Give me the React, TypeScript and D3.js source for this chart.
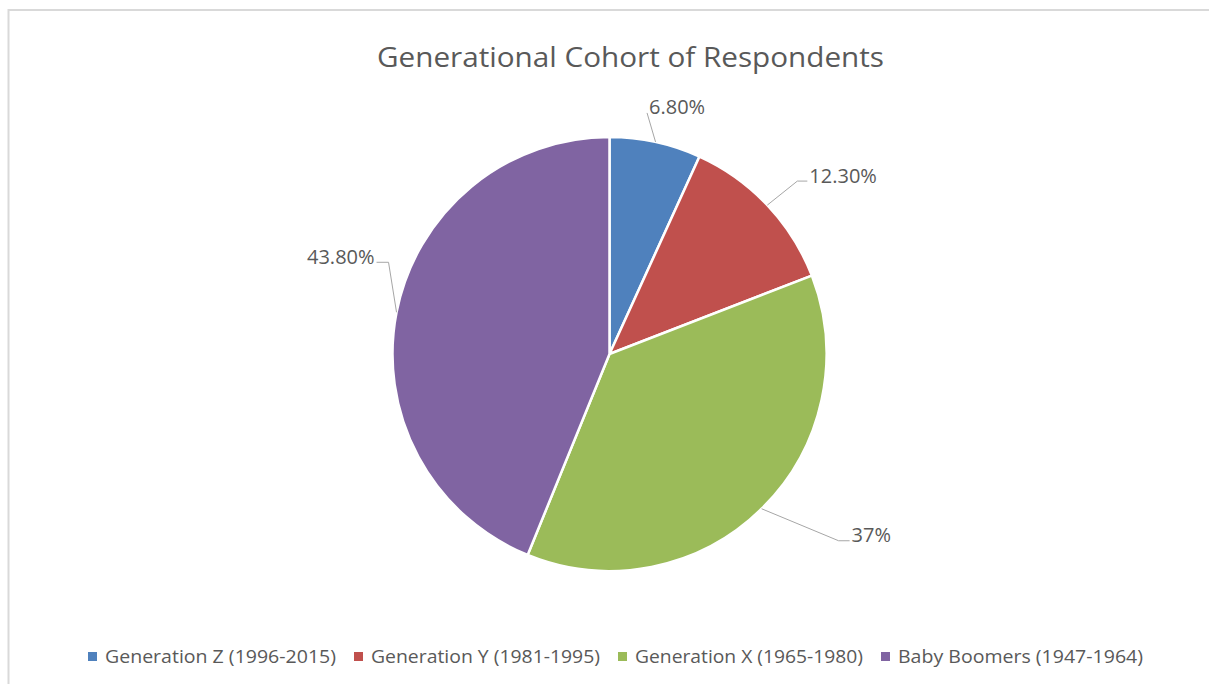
import React from "react";
import * as d3 from "d3";

// Share of respondents by generational cohort (percent)
const categories = [
  "Generation Z (1996-2015)",
  "Generation Y (1981-1995)",
  "Generation X (1965-1980)",
  "Baby Boomers (1947-1964)",
];
const shares = [6.8, 12.3, 37, 43.8];
const shareLabels = ["6.80%", "12.30%", "37%", "43.80%"];
const colors = ["#4f81bd", "#c0504d", "#9bbb59", "#8064a2"];

const TITLE = "Generational Cohort of Respondents";

// Layout
const W = 1209;
const H = 684;
const CX = 609.5;
const CY = 354;
const R = 217;
const FONT = "'Open Sans', 'Liberation Sans', sans-serif";
const TEXT_COLOR = "#595959";
const LEADER_COLOR = "#a6a6a6";

// Leader elbow offsets from the slice's outer midpoint, and the horizontal leg
const labelLayout = [
  { dx: -8.5, dy: -29, leg: 0, side: 1, textDy: 1 },
  { dx: 30, dy: -24, leg: 10, side: 1, textDy: 2 },
  { dx: 77, dy: 32, leg: 11, side: 1, textDy: 1 },
  { dx: -8, dy: -50, leg: 12, side: -1, textDy: 2 },
];

// Legend text lengths
const legendTextLengths = [231, 229, 228, 245];

export default function App() {
  const pie = d3
    .pie<number>()
    .sort(null)
    .value((d) => d)
    .startAngle(0)
    .endAngle(2 * Math.PI);
  const arcs = pie(shares);
  const arcGen = d3.arc<d3.PieArcDatum<number>>().innerRadius(0).outerRadius(R);

  // Legend layout
  const marker = 9;
  const markerGap = 8;
  const itemGap = 18;
  const itemWidths = legendTextLengths.map((t) => marker + markerGap + t);
  const totalLegend =
    itemWidths.reduce((a, b) => a + b, 0) + itemGap * (itemWidths.length - 1);
  let lx = 615.5 - totalLegend / 2;
  const legendX = itemWidths.map((w) => {
    const x = lx;
    lx += w + itemGap;
    return x;
  });
  const legendBaseline = 663;

  return (
    <div style={{ position: "absolute", left: 0, top: 0 }}>
      <svg width={W} height={H} style={{ display: "block", background: "#fff" }}>
        <rect x={0} y={0} width={W} height={H} fill="#fff" />
        {/* chart frame */}
        <rect
          x={8.5}
          y={10}
          width={W + 20}
          height={H + 20}
          fill="none"
          stroke="#d9d9d9"
          strokeWidth={2}
        />
        <text
          x={630.5}
          y={67}
          textAnchor="middle"
          fontFamily={FONT}
          fontSize={28}
          fill={TEXT_COLOR}
          textLength={507}
          lengthAdjust="spacingAndGlyphs"
        >
          {TITLE}
        </text>

        <g transform={`translate(${CX},${CY})`}>
          {arcs.map((a, i) => (
            <path
              key={i}
              d={arcGen(a) || ""}
              fill={colors[i]}
              stroke="#fff"
              strokeWidth={2.5}
              strokeLinejoin="round"
            />
          ))}
        </g>

        {arcs.map((a, i) => {
          const mid = (a.startAngle + a.endAngle) / 2;
          const ax = CX + R * Math.sin(mid);
          const ay = CY - R * Math.cos(mid);
          const L = labelLayout[i];
          const ex = ax + L.dx;
          const ey = ay + L.dy;
          const tx = ex + L.side * L.leg;
          const pts = [
            [ax, ay],
            [ex, ey],
            [tx, ey],
          ];
          return (
            <g key={i}>
              <polyline
                points={pts.map((p) => p.join(",")).join(" ")}
                fill="none"
                stroke={LEADER_COLOR}
                strokeWidth={1}
              />
              <text
                x={tx + L.side * 2}
                y={ey + L.textDy}
                textAnchor={L.side > 0 ? "start" : "end"}
                fontFamily={FONT}
                fontSize={20}
                fill={TEXT_COLOR}
              >
                {shareLabels[i]}
              </text>
            </g>
          );
        })}

        {categories.map((c, i) => (
          <g key={c}>
            <rect
              x={legendX[i]}
              y={legendBaseline - 11}
              width={marker}
              height={marker}
              fill={colors[i]}
            />
            <text
              x={legendX[i] + marker + markerGap}
              y={legendBaseline}
              fontFamily={FONT}
              fontSize={18.5}
              fill={TEXT_COLOR}
              textLength={legendTextLengths[i]}
              lengthAdjust="spacingAndGlyphs"
            >
              {c}
            </text>
          </g>
        ))}
      </svg>
    </div>
  );
}
